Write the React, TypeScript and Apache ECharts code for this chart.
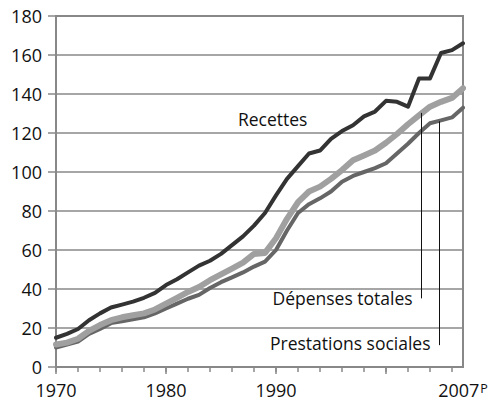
import React, { useEffect, useRef } from "react";
import * as echarts from "echarts";

const years: number[] = [];
for (let y = 1970; y <= 2007; y++) years.push(y);

const recettes = [
  15, 17, 19.5, 24, 27.5, 30.5, 32, 33.5, 35.5, 38,
  42, 45, 48.5, 52, 54.5, 58, 62.5, 67, 72.5, 79,
  88, 96.5, 103, 109.5, 111, 117, 121, 124, 128.5, 131,
  136.5, 136, 133.5, 148, 148, 161, 162.5, 166,
];
const depenses = [
  11.5, 12.5, 14.5, 18.5, 21.5, 24, 25.5, 26.5, 27.5, 29.5,
  32.5, 35.5, 38.5, 41, 44.5, 47.5, 50.5, 53.5, 58, 58.5,
  66, 76, 84.5, 90, 92.5, 96.5, 101, 106, 108.5, 111,
  115, 119.5, 124.5, 129, 133.5, 136, 138, 143,
];
const prestations = [
  10, 11.5, 13, 17, 19.5, 22.5, 23.5, 24.5, 25.5, 27.5,
  30, 32.5, 35, 37, 40.5, 43.5, 46, 48.5, 51.5, 54,
  60, 70, 79, 83.5, 86.5, 90, 95, 98, 100, 102,
  104.5, 109.5, 114.5, 120, 125, 126.5, 128, 133,
];

const xLabelValues = [1970, 1980, 1990, 2007];
const xMinorTicks: number[] = [];
for (let y = 1970; y <= 2006; y += 2) xMinorTicks.push(y);
const xMajorTicks = [1970, 1980, 1990, 2000];

const FONT = "Open Sans";

export default function App() {
  const ref = useRef<HTMLDivElement>(null);
  useEffect(() => {
    document.body.style.margin = "0";
    if (!ref.current) return;
    const chart = echarts.init(ref.current, null, { renderer: "svg" });
    const pairs = (arr: number[]) => arr.map((v, i) => [years[i], v]);
    const labelText = (text: string, coord: number[]) => ({
      coord,
      symbol: "circle",
      symbolSize: 0,
      label: {
        show: true,
        position: "inside",
        formatter: text,
        color: "#111",
        fontSize: 17.5,
        fontFamily: FONT,
      },
    });
    const leader = (x: number, y0: number, y1: number) => [
      { coord: [x, y0] },
      { coord: [x, y1] },
    ];
    const markLineBase = {
      silent: true,
      symbol: ["none", "none"],
      label: { show: false },
      lineStyle: { color: "#111", width: 1, type: "solid" },
    };
    chart.setOption({
      animation: false,
      backgroundColor: "#fff",
      grid: {
        left: 56,
        right: 29,
        top: 16,
        bottom: 40,
        show: true,
        borderColor: "#888",
        borderWidth: 2,
      },
      xAxis: [
        {
          type: "value",
          min: 1970,
          max: 2007,
          position: "bottom",
          axisLine: { show: true, lineStyle: { color: "#888", width: 2 } },
          axisTick: {
            show: true,
            length: 5,
            customValues: xMinorTicks,
            lineStyle: { color: "#888", width: 1.5 },
          },
          splitLine: { show: false },
          axisLabel: {
            customValues: xLabelValues,
            margin: 14,
            color: "#111",
            fontSize: 18,
            fontFamily: FONT,
            formatter: (v: number) => (v === 2007 ? "2007{p|P}" : String(v)),
            rich: {
              p: { fontSize: 12.5, fontFamily: FONT, color: "#111", padding: [0, 0, 3, 1] },
            },
          },
        },
        {
          type: "value",
          min: 1970,
          max: 2007,
          position: "bottom",
          offset: 0,
          axisLine: { show: false },
          axisTick: {
            show: true,
            length: 7,
            customValues: xMajorTicks,
            lineStyle: { color: "#888", width: 1.5 },
          },
          splitLine: { show: false },
          axisLabel: { show: false },
        },
      ],
      yAxis: {
        type: "value",
        min: 0,
        max: 180,
        interval: 20,
        axisLine: { show: true, lineStyle: { color: "#888", width: 2 } },
        axisTick: { show: true, length: 8, lineStyle: { color: "#888", width: 1.5 } },
        splitLine: { show: true, lineStyle: { color: "#888", width: 1.5 } },
        axisLabel: { margin: 14, color: "#111", fontSize: 18, fontFamily: FONT },
      },
      series: [
        {
          name: "Prestations sociales",
          type: "line",
          data: pairs(prestations),
          showSymbol: false,
          lineStyle: { color: "#666", width: 4, join: "round", cap: "round" },
          z: 2,
          markLine: { ...markLineBase, data: [leader(2004.85, 126, 11.2)] },
          markPoint: { data: [labelText("Prestations sociales", [1996.75, 12.2])] },
        },
        {
          name: "Dépenses totales",
          type: "line",
          data: pairs(depenses),
          showSymbol: false,
          lineStyle: { color: "#a0a0a0", width: 6, join: "round", cap: "round" },
          z: 3,
          markLine: { ...markLineBase, data: [leader(2003.24, 130.3, 35.2)] },
          markPoint: { data: [labelText("Dépenses totales", [1996.05, 35.3])] },
        },
        {
          name: "Recettes",
          type: "line",
          data: pairs(recettes),
          showSymbol: false,
          lineStyle: { color: "#333", width: 4, join: "round", cap: "round" },
          z: 4,
          markPoint: { data: [labelText("Recettes", [1989.7, 127.4])] },
        },
      ],
    });
    return () => chart.dispose();
  }, []);
  return <div ref={ref} style={{ width: 492, height: 407 }} />;
}
